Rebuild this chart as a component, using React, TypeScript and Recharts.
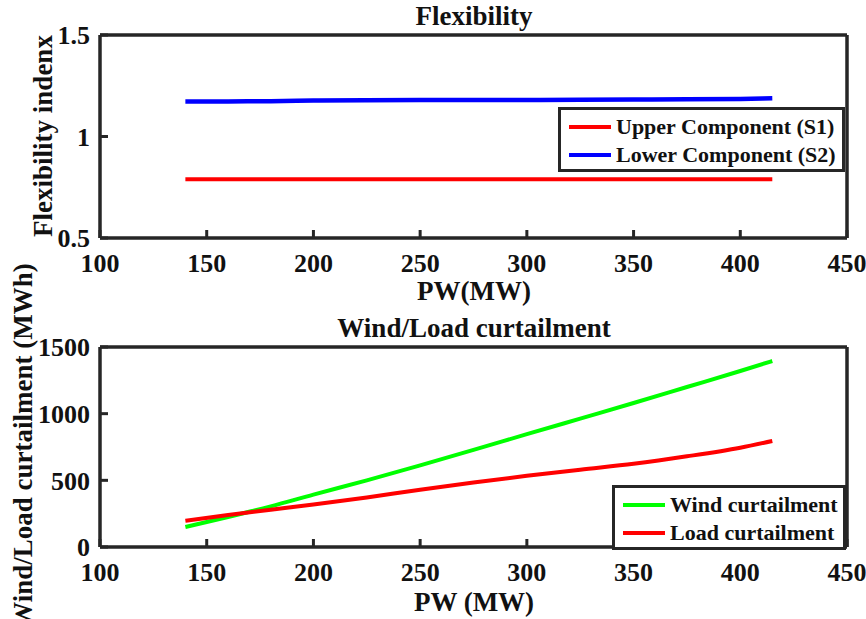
import React from 'react';
import { LineChart, Line, XAxis, YAxis, Legend } from 'recharts';

// PW (MW) sample points shared by both panels
const PW = [140, 160, 180, 200, 225, 250, 275, 300, 325, 350, 375, 400, 415];

// Flexibility index
const UPPER = [0.79, 0.79, 0.79, 0.79, 0.79, 0.79, 0.79, 0.79, 0.79, 0.79, 0.79, 0.79, 0.79];
const LOWER = [1.172, 1.173, 1.174, 1.177, 1.179, 1.18, 1.18, 1.18, 1.181, 1.182, 1.183, 1.185, 1.188];

// Wind / load curtailment (MWh)
const WIND = [150, 225, 305, 393, 500, 612, 728, 846, 963, 1080, 1200, 1320, 1395];
const LOAD = [197, 240, 280, 318, 372, 430, 484, 534, 580, 624, 680, 745, 795];

const X_TICKS = [100, 150, 200, 250, 300, 350, 400, 450];
const FLEX_TICKS = [0.5, 1, 1.5];
const CURT_TICKS = [0, 500, 1000, 1500];

const FLEX_ORDER = ['Upper Component (S1)', 'Lower Component (S2)'];
const CURT_ORDER = ['Wind curtailment', 'Load curtailment'];

const FONT = "'Liberation Serif', 'Times New Roman', serif";
const INK = '#262626';

const flexData = PW.map((pw, i) => ({ pw, upper: UPPER[i], lower: LOWER[i] }));
const curtData = PW.map((pw, i) => ({ pw, wind: WIND[i], load: LOAD[i] }));

const tickStyle = { fill: '#111', fontSize: 26, fontWeight: 'bold', fontFamily: FONT };
const axisLine = { stroke: INK, strokeWidth: 3.5 };
const tickLine = { stroke: INK, strokeWidth: 3 };

const LegendBox = ({ payload, order }: { payload?: any[]; order: string[] }) => {
  const items = [...(payload || [])].sort((a, b) => order.indexOf(a.value) - order.indexOf(b.value));
  return (
    <div
      style={{
        border: `3.5px solid ${INK}`,
        background: '#fff',
        boxSizing: 'border-box',
        padding: '3px 0 0 8px',
        fontFamily: FONT,
        fontWeight: 'bold',
        fontSize: 22,
        color: '#111',
      }}
    >
      {items.map((p) => (
        <div key={p.value} style={{ display: 'flex', alignItems: 'center', height: 28 }}>
          <span style={{ display: 'inline-block', width: 42, height: 4, background: p.color, marginRight: 5 }} />
          <span style={{ whiteSpace: 'nowrap', lineHeight: 1 }}>{p.value}</span>
        </div>
      ))}
    </div>
  );
};

const Title = ({ text, top, left = 474 }: { text: string; top: number; left?: number }) => (
  <div
    style={{
      position: 'absolute',
      left,
      top,
      transform: 'translateX(-50%)',
      fontFamily: FONT,
      fontWeight: 'bold',
      fontSize: 27,
      lineHeight: 1,
      whiteSpace: 'nowrap',
      color: '#111',
    }}
  >
    {text}
  </div>
);

const VTitle = ({ text, cx, cy }: { text: string; cx: number; cy: number }) => (
  <div
    style={{
      position: 'absolute',
      left: cx,
      top: cy,
      transform: 'translate(-50%, -50%) rotate(-90deg)',
      fontFamily: FONT,
      fontWeight: 'bold',
      fontSize: 27,
      lineHeight: 1,
      whiteSpace: 'nowrap',
      color: '#111',
    }}
  >
    {text}
  </div>
);

export default function App() {
  return (
    <div style={{ position: 'absolute', left: 0, top: 0, width: 866, height: 619, overflow: 'hidden', background: '#fff' }}>
      <div style={{ position: 'absolute', left: 0, top: 0 }}>
        <LineChart width={866} height={300} data={flexData} margin={{ top: 34, right: 18, left: 0, bottom: 0 }}>
          <XAxis dataKey="pw" type="number" domain={[100, 450]} ticks={X_TICKS} interval={0}
            height={62} tickSize={-8} tickMargin={24} axisLine={axisLine} tickLine={tickLine} tick={tickStyle} />
          <XAxis xAxisId="top" orientation="top" type="number" domain={[100, 450]} ticks={X_TICKS} interval={0}
            height={1} tickSize={-8} axisLine={axisLine} tickLine={tickLine} tick={false} />
          <YAxis type="number" domain={[0.5, 1.5]} ticks={FLEX_TICKS} interval={0}
            width={100} tickSize={-8} tickMargin={18} axisLine={axisLine} tickLine={tickLine} tick={tickStyle} />
          <YAxis yAxisId="right" orientation="right" type="number" domain={[0.5, 1.5]} ticks={FLEX_TICKS} interval={0}
            width={1} tickSize={-8} axisLine={axisLine} tickLine={tickLine} tick={false} />
          <Legend layout="vertical" align="center" verticalAlign="middle"
            wrapperStyle={{ left: 558, top: 107, width: 287 }}
            content={(props: any) => <LegendBox payload={props.payload} order={FLEX_ORDER} />} />
          <Line type="monotone" dataKey="upper" name="Upper Component (S1)" stroke="#ff0000" strokeWidth={4} dot={false} isAnimationActive={false} />
          <Line type="monotone" dataKey="lower" name="Lower Component (S2)" stroke="#0000ff" strokeWidth={4.5} dot={false} isAnimationActive={false} />
        </LineChart>
      </div>

      <div style={{ position: 'absolute', left: 0, top: 300 }}>
        <LineChart width={866} height={319} data={curtData} margin={{ top: 46, right: 18, left: 0, bottom: 0 }}>
          <XAxis dataKey="pw" type="number" domain={[100, 450]} ticks={X_TICKS} interval={0}
            height={72} tickSize={-8} tickMargin={24} axisLine={axisLine} tickLine={tickLine} tick={tickStyle} />
          <XAxis xAxisId="top" orientation="top" type="number" domain={[100, 450]} ticks={X_TICKS} interval={0}
            height={1} tickSize={-8} axisLine={axisLine} tickLine={tickLine} tick={false} />
          <YAxis type="number" domain={[0, 1500]} ticks={CURT_TICKS} interval={0}
            width={100} tickSize={-8} tickMargin={18} axisLine={axisLine} tickLine={tickLine} tick={tickStyle} />
          <YAxis yAxisId="right" orientation="right" type="number" domain={[0, 1500]} ticks={CURT_TICKS} interval={0}
            width={1} tickSize={-8} axisLine={axisLine} tickLine={tickLine} tick={false} />
          <Legend layout="vertical" align="center" verticalAlign="middle"
            wrapperStyle={{ left: 612, top: 185, width: 234 }}
            content={(props: any) => <LegendBox payload={props.payload} order={CURT_ORDER} />} />
          <Line type="monotone" dataKey="wind" name="Wind curtailment" stroke="#00ff00" strokeWidth={4} dot={false} isAnimationActive={false} />
          <Line type="monotone" dataKey="load" name="Load curtailment" stroke="#ff0000" strokeWidth={4} dot={false} isAnimationActive={false} />
        </LineChart>
      </div>

      <Title text="Flexibility" top={3} />
      <Title text="PW(MW)" top={278} />
      <Title text="Wind/Load curtailment" top={315} />
      <Title text="PW (MW)" top={589} />
      <VTitle text="Flexibility indenx" cx={43} cy={136} />
      <VTitle text="Wind/Load curtailment (MWh)" cx={23} cy={446} />
    </div>
  );
}
